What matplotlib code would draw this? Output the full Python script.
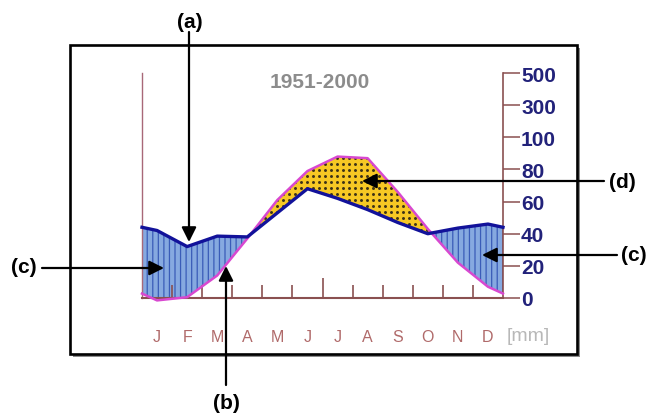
import numpy as np
import matplotlib
matplotlib.use("Agg")
import matplotlib.pyplot as plt
from matplotlib.patches import Rectangle
from matplotlib.path import Path
from matplotlib.transforms import blended_transform_factory

plt.rcParams['font.family'] = ['Liberation Sans', 'DejaVu Sans']
plt.rcParams['hatch.linewidth'] = 0.9

# monthly values (mm scale, temperature shown as 2 mm per degree)
months = ['J', 'F', 'M', 'A', 'M', 'J', 'J', 'A', 'S', 'O', 'N', 'D']
precip = [42, 32, 38.5, 38, 53, 68, 62, 55, 47, 40, 43.5, 46]
temp = [-1.5, 0.5, 14, 37, 61, 79, 88, 87, 66, 43, 22, 7]
ytick_pos = [0, 20, 40, 60, 80, 100, 120, 140]
ytick_lab = ['0', '20', '40', '60', '80', '100', '300', '500']
period = '1951-2000'

W, H = 649, 414
fig = plt.figure(figsize=(W / 100, H / 100), dpi=100)
fig.patch.set_facecolor('white')

# background: frame with shadow
bg = fig.add_axes([0, 0, 1, 1], zorder=0)
bg.set_xlim(0, W)
bg.set_ylim(H, 0)
bg.axis('off')
bg.add_patch(Rectangle((73, 49), 507, 309, facecolor='#8c8c8c', edgecolor='none'))
bg.add_patch(Rectangle((70, 46), 507, 309, facecolor='white', edgecolor='black', lw=1.9))

# climate diagram
ax = fig.add_axes([142 / W, (H - 299) / H, 361 / W, 225 / H], zorder=1)
ax.patch.set_alpha(0)

x = np.concatenate(([0], np.arange(12) + 0.5, [12]))
p = np.array(precip, dtype=float)
t = np.array(temp, dtype=float)
p = np.concatenate(([(p[0] + p[-1]) / 2], p, [(p[0] + p[-1]) / 2]))
t = np.concatenate(([(t[0] + t[-1]) / 2], t, [(t[0] + t[-1]) / 2]))

ax.fill_between(x, t, p, where=p >= t, interpolate=True, facecolor='#86a9e0',
                edgecolor='#3a5cb8', hatch='|||', lw=0, zorder=1)
dry = ax.fill_between(x, t, p, where=p < t, interpolate=True, facecolor='#f7c824',
                      lw=0, zorder=1)

# dotted pattern of the dry period, clipped to its area
step = 6.0
gx, gy = np.meshgrid(np.arange(0.1, 12, step * 12 / 361),
                     np.arange(1.0, 140, step * 140 / 225))
dots = ax.scatter(gx.ravel(), gy.ravel(), s=4.5, color='#3d3218', lw=0, zorder=2)
dots.set_clip_path(Path.make_compound_path(*dry.get_paths()), ax.transData)

ax.plot(x, t, color='#d848d0', lw=1.8, zorder=3, clip_on=False)
ax.plot(x, p, color='#12129a', lw=2.4, zorder=4, clip_on=False)

ax.set_xlim(0, 12)
ax.set_ylim(0, 140)

ax.spines['top'].set_visible(False)
ax.spines['left'].set_color('#a86878')
ax.spines['left'].set_linewidth(1.0)
ax.spines['right'].set_color('#8a5050')
ax.spines['right'].set_linewidth(1.2)
ax.spines['bottom'].set_color('#8a5050')
ax.spines['bottom'].set_linewidth(1.5)

ax.yaxis.tick_right()
ax.set_yticks(ytick_pos, ytick_lab)
ax.tick_params(axis='y', direction='out', length=12, width=1.1, color='#8a5050',
               pad=1, labelsize=15, labelcolor='#22227a')
for lab in ax.get_yticklabels():
    lab.set_fontweight('bold')

ax.set_xticks(np.arange(12) + 0.5, months)
ax.tick_params(axis='x', length=0, pad=22, labelsize=11.5, labelcolor='#b06a6a')

trans = blended_transform_factory(ax.transData, ax.transAxes)
bounds = np.arange(1, 12)
heights = np.where(bounds == 6, 20 / 225, 13 / 225)
ax.vlines(bounds, 0, heights, transform=trans, color='#8a5050', lw=1.2)

# annotations on top
fg = fig.add_axes([0, 0, 1, 1], zorder=2)
fg.set_xlim(0, W)
fg.set_ylim(H, 0)
fg.axis('off')

fg.text(320, 83, period, ha='center', va='center', fontsize=15,
        fontweight='bold', color='#8c8c8c')
fg.text(528, 337, '[mm]', ha='center', va='center', fontsize=14, color='#b8b8b8')

arrow = dict(arrowstyle='-|>', lw=1.6, color='black', mutation_scale=22,
             shrinkA=0, shrinkB=0)
fg.annotate('', xy=(189, 243), xytext=(189, 33), arrowprops=arrow)
fg.text(190, 22, '(a)', ha='center', va='center', fontsize=15, fontweight='bold')
fg.annotate('', xy=(226, 267), xytext=(226, 386), arrowprops=arrow)
fg.text(226, 404, '(b)', ha='center', va='center', fontsize=15, fontweight='bold')
fg.annotate('', xy=(164, 269), xytext=(42, 269), arrowprops=arrow)
fg.text(24, 268, '(c)', ha='center', va='center', fontsize=15, fontweight='bold')
fg.annotate('', xy=(482, 256), xytext=(617, 256), arrowprops=arrow)
fg.text(634, 256, '(c)', ha='center', va='center', fontsize=15, fontweight='bold')
fg.annotate('', xy=(362, 182), xytext=(604, 182), arrowprops=arrow)
fg.text(622, 183, '(d)', ha='center', va='center', fontsize=15, fontweight='bold')

fig.savefig('out.png', dpi=100, facecolor='white')
